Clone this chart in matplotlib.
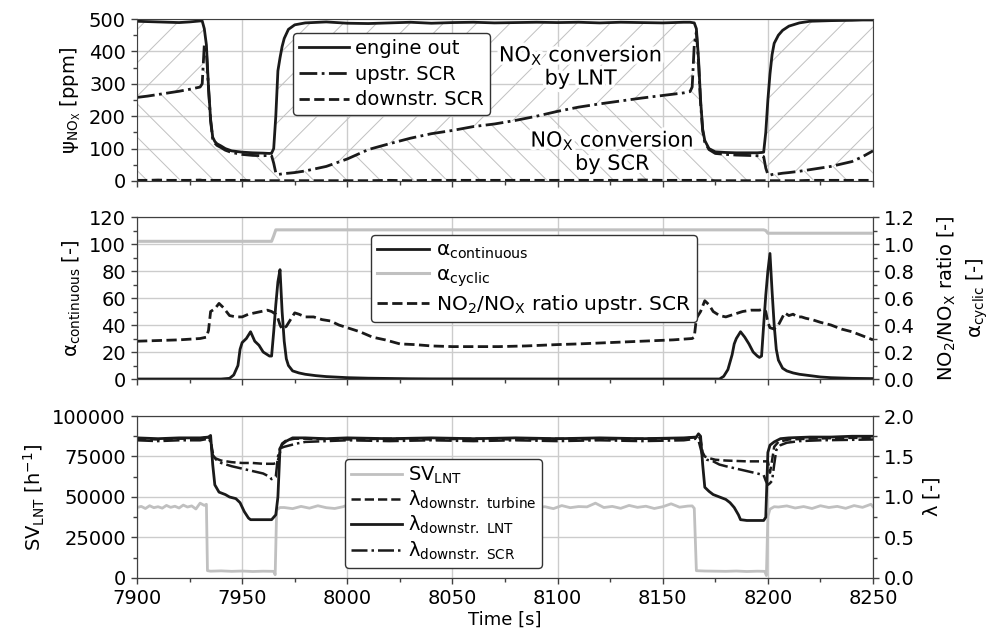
import numpy as np
import matplotlib
matplotlib.use('Agg')
import matplotlib.pyplot as plt
from matplotlib.ticker import MultipleLocator, FormatStrFormatter
import matplotlib.patheffects as pe

# ---------------- data ----------------
# top panel: NOx concentrations [ppm]
t_nox = [7900, 7905, 7910, 7915, 7920, 7925, 7930, 7931, 7932, 7933,
         7934, 7935, 7936, 7937, 7938, 7940, 7942, 7945, 7950, 7955,
         7960, 7963, 7964, 7965, 7966, 7967, 7968, 7969, 7970, 7972,
         7975, 7980, 7990, 8000, 8010, 8020, 8030, 8040, 8050, 8060,
         8070, 8080, 8090, 8100, 8110, 8120, 8130, 8140, 8150, 8160,
         8163, 8164, 8165, 8166, 8167, 8168, 8169, 8170, 8172, 8175,
         8180, 8185, 8190, 8195, 8197, 8198, 8199, 8200, 8201, 8202,
         8203, 8205, 8207, 8210, 8215, 8220, 8230, 8240, 8245, 8250]
engine_out = [493, 492, 491, 490, 489, 491, 494, 494, 470, 420,
              290, 190, 135, 122, 115, 108, 100, 93, 89, 87,
              86, 85, 86, 100, 200, 340, 380, 415, 440, 468,
              482, 488, 491, 487, 486, 488, 490, 487, 489, 490,
              488, 489, 490, 489, 490, 488, 490, 489, 488, 490,
              490, 489, 488, 470, 380, 250, 160, 125, 100, 90,
              88, 87, 87, 87, 88, 89, 150, 250, 330, 390,
              425, 450, 465, 478, 488, 493, 495, 496, 497, 497]
upstr_scr = [258, 262, 267, 272, 277, 283, 290, 300, 420, 400,
             285, 185, 130, 117, 110, 103, 95, 88, 82, 79,
             78, 79, 78, 55, 25, 20, 21, 22, 23, 24,
             26, 31, 45, 68, 97, 115, 132, 146, 156, 168,
             176, 187, 200, 215, 228, 238, 247, 256, 264, 272,
             276, 290, 420, 460, 370, 240, 155, 120, 97, 85,
             82, 80, 79, 78, 78, 75, 40, 20, 18, 20,
             21, 22, 24, 26, 30, 35, 45, 60, 75, 93]
downstr_scr = [2, 2, 3, 2, 2, 2, 3, 2, 2, 2,
               2, 2, 2, 2, 2, 2, 2, 2, 2, 1,
               1, 1, 1, 1, 1, 1, 1, 1, 1, 1,
               1, 1, 1, 1, 1, 2, 1, 2, 2, 2,
               2, 2, 2, 2, 2, 2, 2, 3, 2, 2,
               2, 2, 2, 2, 2, 2, 2, 2, 2, 1,
               1, 1, 1, 1, 1, 1, 1, 1, 1, 1,
               1, 1, 1, 1, 1, 2, 2, 2, 2, 2]

# middle panel
t_acont = [7900, 7940, 7944, 7946, 7948, 7949, 7950, 7952, 7954, 7956,
           7958, 7960, 7963, 7964, 7965, 7966, 7967, 7968, 7969, 7970,
           7971, 7972, 7974, 7977, 7980, 7985, 7990, 8000, 8010, 8020,
           8030, 8040, 8100, 8170, 8177, 8179, 8181, 8183, 8184, 8185,
           8187, 8189, 8191, 8193, 8195, 8196, 8197, 8198, 8199, 8200,
           8201, 8202, 8203, 8204, 8205, 8206, 8207, 8209, 8212, 8215,
           8220, 8225, 8230, 8240, 8250]
alpha_cont = [0, 0, 0.5, 3, 10, 22, 27, 30, 35, 28,
              25, 20, 17, 17, 35, 55, 72, 81, 50, 28,
              15, 10, 6, 4.5, 3.5, 2.5, 1.8, 1.0, 0.6, 0.4,
              0.2, 0.1, 0, 0, 0, 2, 7, 18, 26, 30,
              35, 31, 26, 20, 17, 16, 17, 40, 62, 80,
              93, 65, 40, 22, 14, 11, 8, 6, 4.5, 3.5,
              2.5, 1.5, 1.0, 0.5, 0.3]
t_acyc = [7900, 7964, 7965, 7966, 8198, 8199, 8200, 8250]
alpha_cyc = [1.02, 1.02, 1.06, 1.105, 1.105, 1.10, 1.08, 1.08]
t_ratio = [7900, 7910, 7920, 7930, 7933, 7934, 7935, 7937, 7939, 7941,
           7944, 7947, 7950, 7953, 7956, 7959, 7962, 7964, 7966, 7967,
           7968, 7969, 7971, 7973, 7975, 7977, 7980, 7984, 7988, 7992,
           7996, 8000, 8006, 8012, 8018, 8025, 8032, 8040, 8050, 8060,
           8072, 8085, 8100, 8110, 8125, 8140, 8155, 8164, 8165, 8166,
           8168, 8170, 8172, 8174, 8177, 8180, 8184, 8188, 8192, 8196,
           8198, 8199, 8200, 8201, 8203, 8205, 8207, 8208, 8210, 8212,
           8214, 8216, 8218, 8221, 8225, 8230, 8235, 8240, 8245, 8250]
no2_ratio = [0.28, 0.285, 0.29, 0.30, 0.31, 0.36, 0.50, 0.52, 0.56, 0.53,
             0.47, 0.46, 0.46, 0.48, 0.49, 0.50, 0.51, 0.50, 0.48, 0.45,
             0.40, 0.37, 0.39, 0.44, 0.49, 0.48, 0.46, 0.46, 0.44, 0.43,
             0.40, 0.38, 0.35, 0.31, 0.29, 0.26, 0.255, 0.245, 0.24, 0.24,
             0.24, 0.245, 0.255, 0.26, 0.27, 0.28, 0.29, 0.30, 0.31, 0.45,
             0.50, 0.58, 0.55, 0.50, 0.47, 0.46, 0.48, 0.50, 0.51, 0.51,
             0.52, 0.50, 0.42, 0.38, 0.37, 0.40, 0.46, 0.49, 0.47, 0.48,
             0.46, 0.46, 0.45, 0.44, 0.42, 0.40, 0.37, 0.35, 0.32, 0.29]

# bottom panel: space velocity [1/h]
t_sv = ([7900, 7902, 7904, 7906, 7908, 7910, 7912, 7914, 7916, 7918,
         7920, 7922, 7924, 7926, 7928, 7930, 7932,
         7933, 7933.5, 7935, 7940, 7945, 7950, 7955, 7960, 7965, 7965.7,
         7966.4, 7968]
        + [7970, 7974, 7978, 7982, 7986, 7990, 7994, 7998, 8002, 8006,
           8010, 8014, 8018, 8022, 8026, 8030, 8034, 8038, 8042, 8046,
           8050, 8054, 8058, 8062, 8066, 8070, 8074, 8078, 8082, 8086,
           8090, 8094, 8098, 8102, 8106, 8110, 8114, 8118, 8122, 8126,
           8130, 8134, 8138, 8142, 8146, 8150, 8154, 8158, 8162]
        + [8164, 8165, 8166, 8170, 8175, 8180, 8185, 8190, 8195, 8198.5,
           8199.3, 8200, 8201, 8203,
           8205, 8209, 8213, 8217, 8221, 8225, 8229, 8233, 8237, 8241,
           8245, 8249, 8250])
sv_lnt = ([43500, 44200, 42900, 44600, 43400, 44000, 43100, 44800, 43600, 44300,
           43200, 45000, 43800, 44500, 42600, 46200, 44800,
           45500, 4500, 4200, 4400, 4100, 4300, 4000, 4200, 4100, 2000,
           42000, 43500]
          + [43500, 42800, 44200, 43100, 44600, 43400, 42900, 44000, 46000, 43600,
             44800, 43200, 44100, 43500, 44400, 42700, 43900, 44500, 43000, 44200,
             43700, 45200, 43300, 44000, 42900, 44600, 43800, 44300, 43100, 45500,
             43600, 44000, 42800, 44700, 43400, 44100, 43900, 46200, 43500, 44200,
             43000, 44800, 43600, 44300, 42900, 44000, 45800, 43700, 44400]
          + [44500, 43000, 4500, 4300, 4200, 4100, 4300, 4000, 4200, 4100,
             1500, 38000, 42500, 44000,
             43800, 44500, 43200, 44100, 42900, 44600, 43500, 44200, 43000, 44700,
             43600, 45500, 44000])

# bottom panel: air-fuel ratios [-]
t_lnt = [7900, 7910, 7920, 7930, 7934, 7935, 7936, 7937, 7939, 7942,
         7944, 7947, 7949, 7951, 7953, 7954, 7960, 7964, 7966, 7967,
         7968, 7969, 7971, 7974, 7980, 7990, 8000, 8020, 8040, 8060,
         8080, 8100, 8120, 8140, 8160, 8166, 8167, 8168, 8169, 8170,
         8172, 8174, 8176, 8178, 8180, 8182, 8184, 8186, 8187, 8190,
         8195, 8198, 8199, 8200, 8201, 8203, 8206, 8210, 8220, 8230,
         8240, 8250]
lam_lnt = [1.73, 1.72, 1.73, 1.73, 1.74, 1.76, 1.40, 1.15, 1.06, 1.03,
           1.00, 0.98, 0.93, 0.82, 0.74, 0.72, 0.72, 0.72, 0.78, 1.00,
           1.60, 1.65, 1.69, 1.73, 1.73, 1.72, 1.73, 1.72, 1.73, 1.72,
           1.73, 1.72, 1.73, 1.72, 1.73, 1.74, 1.78, 1.75, 1.40, 1.12,
           1.07, 1.03, 1.01, 0.99, 0.97, 0.93, 0.87, 0.78, 0.72, 0.71,
           0.71, 0.71, 0.75, 1.55, 1.64, 1.68, 1.72, 1.73, 1.74, 1.74,
           1.75, 1.75]
t_turb = [7900, 7910, 7920, 7930, 7934, 7935, 7936, 7937, 7940, 7945,
          7950, 7955, 7960, 7965, 7966, 7967, 7968, 7969, 7971, 7975,
          7980, 8000, 8020, 8040, 8060, 8080, 8100, 8120, 8140, 8160,
          8166, 8167, 8168, 8169, 8170, 8172, 8175, 8180, 8190, 8198,
          8200, 8201, 8202, 8203, 8205, 8210, 8220, 8235, 8250]
lam_turb = [1.72, 1.71, 1.72, 1.72, 1.74, 1.70, 1.55, 1.48, 1.45, 1.43,
            1.42, 1.42, 1.41, 1.41, 1.42, 1.45, 1.55, 1.66, 1.70, 1.72,
            1.72, 1.71, 1.72, 1.71, 1.72, 1.71, 1.72, 1.71, 1.72, 1.72,
            1.74, 1.76, 1.70, 1.55, 1.50, 1.48, 1.46, 1.45, 1.44, 1.44,
            1.44, 1.30, 1.45, 1.62, 1.68, 1.71, 1.72, 1.73, 1.73]
t_scr = [7900, 7910, 7920, 7930, 7934, 7935, 7936, 7938, 7940, 7945,
         7950, 7955, 7960, 7963, 7964, 7966, 7967, 7968, 7970, 7973,
         7976, 7980, 7990, 8000, 8020, 8040, 8060, 8080, 8100, 8120,
         8140, 8160, 8166, 8167, 8168, 8169, 8171, 8174, 8177, 8180,
         8185, 8190, 8195, 8198, 8199, 8200, 8201, 8202, 8203, 8204,
         8206, 8209, 8215, 8225, 8250]
lam_scr = [1.70, 1.69, 1.70, 1.70, 1.72, 1.68, 1.52, 1.45, 1.42, 1.38,
           1.35, 1.32, 1.29, 1.25, 1.22, 1.25, 1.50, 1.60, 1.62, 1.64,
           1.66, 1.68, 1.69, 1.70, 1.69, 1.70, 1.69, 1.70, 1.69, 1.70,
           1.69, 1.70, 1.72, 1.70, 1.60, 1.50, 1.46, 1.44, 1.40, 1.38,
           1.35, 1.32, 1.29, 1.27, 1.20, 1.15, 1.17, 1.20, 1.40, 1.58,
           1.64, 1.67, 1.69, 1.70, 1.71]

# ---------------- style ----------------
plt.rcParams['font.family'] = ['DejaVu Sans']
plt.rcParams['font.size'] = 14
plt.rcParams['mathtext.default'] = 'regular'
plt.rcParams['hatch.linewidth'] = 0.7

BLACK = '#1a1a1a'
GREY = '#c0c0c0'
HATCH = '#c0c0c0'

fig = plt.figure(figsize=(9.95, 6.4), dpi=100)
ax1 = fig.add_axes([0.1377, 0.7172, 0.7397, 0.2531])
ax2 = fig.add_axes([0.1377, 0.4078, 0.7397, 0.2531], sharex=ax1)
ax3 = fig.add_axes([0.1377, 0.0969, 0.7397, 0.2531], sharex=ax1)


def style(ax, grid=True):
    ax.set_xlim(7900, 8250)
    ax.xaxis.set_major_locator(MultipleLocator(50))
    ax.xaxis.set_minor_locator(MultipleLocator(25))
    if grid:
        ax.grid(True, which='major', color='#cccccc', lw=1)
        ax.set_axisbelow(True)
    ax.tick_params(which='both', direction='out', color='#404040', width=1)
    ax.tick_params(which='major', length=4.5, labelsize=14)
    ax.tick_params(which='minor', length=3)
    for s in ax.spines.values():
        s.set_color('#404040')


# ---- top panel ----
style(ax1)
ax1.fill_between(t_nox, upstr_scr, engine_out, facecolor='none',
                 edgecolor=HATCH, hatch='/', linewidth=0)
ax1.fill_between(t_nox, downstr_scr, upstr_scr, facecolor='none',
                 edgecolor=HATCH, hatch='\\', linewidth=0)
ax1.plot(t_nox, engine_out, '-', color=BLACK, lw=2, label='engine out')
ax1.plot(t_nox, upstr_scr, '-.', color=BLACK, lw=2, label='upstr. SCR')
ax1.plot(t_nox, downstr_scr, '--', color=BLACK, lw=2, label='downstr. SCR')
ax1.set_ylim(0, 500)
ax1.yaxis.set_major_locator(MultipleLocator(100))
ax1.yaxis.set_minor_locator(MultipleLocator(50))
ax1.set_ylabel(r'$\psi_{NO_X}$ [ppm]', fontsize=14)
ax1.tick_params(labelbottom=False)
leg = ax1.legend(loc='upper left', bbox_to_anchor=(0.212, 0.914), borderaxespad=0,
                 fontsize=14, handlelength=2.6, handletextpad=0.3, borderpad=0.3,
                 labelspacing=0.35, fancybox=True, framealpha=1, edgecolor='#333333')
leg.get_frame().set_linewidth(1)
halo = [pe.withStroke(linewidth=5, foreground='white')]
ax1.text(8111, 355, 'NO$_X$ conversion\nby LNT', ha='center', va='center',
         fontsize=15, linespacing=1.1, path_effects=halo)
ax1.text(8126, 92, 'NO$_X$ conversion\nby SCR', ha='center', va='center',
         fontsize=15, linespacing=1.1, path_effects=halo)

# ---- middle panel ----
style(ax2)
ax2.plot(t_acont, alpha_cont, '-', color=BLACK, lw=2, label=r'$\alpha_{continuous}$')
ax2.set_ylim(0, 120)
ax2.yaxis.set_major_locator(MultipleLocator(20))
ax2.yaxis.set_minor_locator(MultipleLocator(10))
ax2.set_ylabel(r'$\alpha_{continuous}$ [-]', fontsize=14)
ax2.tick_params(labelbottom=False)
ax2r = ax2.twinx()
style(ax2r, grid=False)
ax2r.plot(t_acyc, alpha_cyc, '-', color=GREY, lw=2.2, label=r'$\alpha_{cyclic}$')
ax2r.plot(t_ratio, no2_ratio, '--', color=BLACK, lw=2,
          label='NO$_2$/NO$_X$ ratio upstr. SCR')
ax2r.set_ylim(0, 1.2)
ax2r.yaxis.set_major_locator(MultipleLocator(0.2))
ax2r.yaxis.set_minor_locator(MultipleLocator(0.1))
ax2r.yaxis.set_major_formatter(FormatStrFormatter('%.1f'))
h1, l1 = ax2.get_legend_handles_labels()
h2, l2 = ax2r.get_legend_handles_labels()
leg = ax2r.legend(h1 + h2, l1 + l2, loc='upper left', bbox_to_anchor=(0.318, 0.889),
                  borderaxespad=0, fontsize=14.5, handlelength=2.6, handletextpad=0.3,
                  borderpad=0.3, labelspacing=0.2, fancybox=True, framealpha=1,
                  edgecolor='#333333')
leg.get_frame().set_linewidth(1)
fig.text(947 / 995, 1 - 298 / 640, 'NO$_2$/NO$_X$ ratio [-]', rotation=90,
         ha='center', va='center', fontsize=14)
fig.text(977 / 995, 1 - 298 / 640, r'$\alpha_{cyclic}$ [-]', rotation=90,
         ha='center', va='center', fontsize=14)

# ---- bottom panel ----
style(ax3)
ax3.plot(t_sv, sv_lnt, '-', color=GREY, lw=2, label='SV$_{LNT}$')
ax3.set_ylim(0, 100000)
ax3.yaxis.set_major_locator(MultipleLocator(25000))
ax3.yaxis.set_minor_locator(MultipleLocator(12500))
ax3.set_ylabel('SV$_{LNT}$ [h$^{-1}$]', fontsize=14)
ax3.set_xlabel('Time [s]', fontsize=13, labelpad=2)
ax3r = ax3.twinx()
style(ax3r, grid=False)
ax3r.plot(t_turb, lam_turb, '--', color=BLACK, lw=1.8, label=r'$\lambda_{downstr.\ turbine}$')
ax3r.plot(t_lnt, lam_lnt, '-', color=BLACK, lw=2, label=r'$\lambda_{downstr.\ LNT}$')
ax3r.plot(t_scr, lam_scr, '-.', color=BLACK, lw=1.8, label=r'$\lambda_{downstr.\ SCR}$')
ax3r.set_ylim(0, 2)
ax3r.yaxis.set_major_locator(MultipleLocator(0.5))
ax3r.yaxis.set_minor_locator(MultipleLocator(0.25))
ax3r.yaxis.set_major_formatter(FormatStrFormatter('%.1f'))
ax3r.set_ylabel(r'$\lambda$ [-]', fontsize=14)
h1, l1 = ax3.get_legend_handles_labels()
h2, l2 = ax3r.get_legend_handles_labels()
leg = ax3r.legend(h1 + h2, l1 + l2, loc='upper left', bbox_to_anchor=(0.283, 0.735),
                  borderaxespad=0, fontsize=14, handlelength=2.6, handletextpad=0.3,
                  borderpad=0.3, labelspacing=0.15, fancybox=True, framealpha=1,
                  edgecolor='#333333')
leg.get_frame().set_linewidth(1)

fig.savefig('out.png', dpi=100)
